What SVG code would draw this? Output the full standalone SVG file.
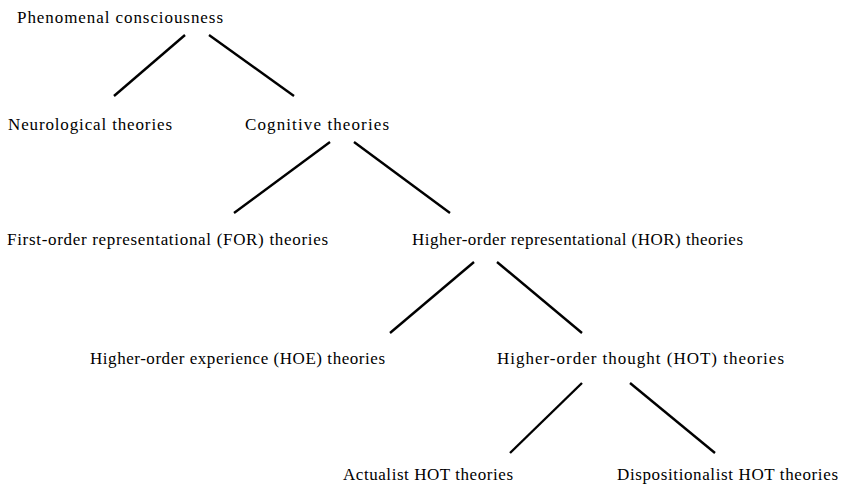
<svg xmlns="http://www.w3.org/2000/svg" width="849" height="492" viewBox="0 0 849 492">
<style>
text{font-family:'Liberation Serif','DejaVu Serif',serif;font-size:17px;fill:#000}
.c line{stroke:#000;stroke-width:2.4;stroke-linecap:butt}
</style>
<rect width="849" height="492" fill="#fff"/>
<g class="c" id="connectors">
<line x1="185" y1="35" x2="114" y2="96"/>
<line x1="209" y1="35" x2="294" y2="96"/>
<line x1="330" y1="142" x2="234" y2="213"/>
<line x1="354" y1="142" x2="450" y2="213"/>
<line x1="474" y1="262" x2="390" y2="333"/>
<line x1="497" y1="262" x2="582" y2="333"/>
<line x1="582" y1="383" x2="510" y2="453"/>
<line x1="630" y1="383" x2="715" y2="453"/>
</g>
<g id="n-phenomenal" font-family="Liberation Serif, serif"><text x="17" y="23" textLength="206" lengthAdjust="spacing">Phenomenal consciousness</text></g>
<g id="n-neuro"><text x="8" y="130" textLength="164" lengthAdjust="spacing">Neurological theories</text></g>
<g id="n-cognitive"><text x="245" y="130" textLength="144" lengthAdjust="spacing">Cognitive theories</text></g>
<g id="n-for"><text x="7" y="245" textLength="321" lengthAdjust="spacing">First-order representational (FOR) theories</text></g>
<g id="n-hor"><text x="412" y="245" textLength="331" lengthAdjust="spacing">Higher-order representational (HOR) theories</text></g>
<g id="n-hoe"><text x="90" y="364" textLength="295" lengthAdjust="spacing">Higher-order experience (HOE) theories</text></g>
<g id="n-hot"><text x="497" y="364" textLength="287" lengthAdjust="spacing">Higher-order thought (HOT) theories</text></g>
<g id="n-actualist"><text x="343" y="480" textLength="170" lengthAdjust="spacing">Actualist HOT theories</text></g>
<g id="n-dispositionalist"><text x="617" y="480" textLength="221" lengthAdjust="spacing">Dispositionalist HOT theories</text></g>
</svg>
